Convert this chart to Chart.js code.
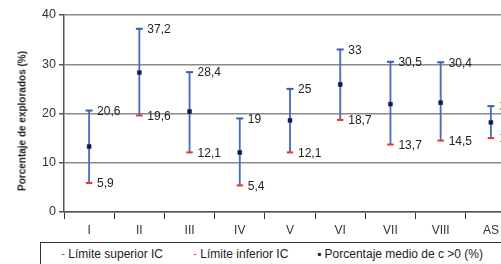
<!DOCTYPE html>
<html>
<head>
<meta charset="utf-8">
<script src="https://cdn.jsdelivr.net/npm/chart.js@4/dist/chart.umd.min.js"></script>
<style>
  html, body { margin: 0; padding: 0; background: #fff; overflow: hidden; }
  #wrap { position: relative; width: 501px; height: 264px; overflow: hidden; font-family: "Liberation Sans", Arial, sans-serif; }
  #chart { position: absolute; left: 0; top: 0; }
  #ytitle { position: absolute; left: 22px; top: 121px; transform: translate(-50%, -50%) rotate(-90deg);
            white-space: nowrap; font-size: 10px; font-weight: bold; color: #222; }
  #legend { position: absolute; left: 40px; top: 242px; width: 520px; height: 30px; border: 1px solid #333;
            box-sizing: border-box; font-size: 12px; color: #222; }
  #legend span { position: absolute; top: 4px; white-space: nowrap; }
</style>
</head>
<body>
<div id="wrap">
  <canvas id="chart" width="530" height="240"></canvas>
  <div id="ytitle">Porcentaje de explorados (%)</div>
  <div id="legend">
    <span style="left:20px"><b style="color:#5a7cc8;font-weight:normal">-</b> Límite superior IC</span>
    <span style="left:152px"><b style="color:#f0584a;font-weight:normal">-</b> Límite inferior IC</span>
    <span style="left:276px"><b style="color:#1a2050;font-weight:normal">▪</b> Porcentaje medio de c &gt;0 (%)</span>
  </div>
</div>
<script>
// --- datos ---
const categorias = ['I', 'II', 'III', 'IV', 'V', 'VI', 'VII', 'VIII', 'AS'];
const limiteSuperior = [20.6, 37.2, 28.4, 19, 25, 33, 30.5, 30.4, 21.5];
const limiteInferior = [5.9, 19.6, 12.1, 5.4, 12.1, 18.7, 13.7, 14.5, 15.0];
const porcentajeMedio = [13.3, 28.3, 20.4, 12.1, 18.6, 25.9, 21.9, 22.2, 18.2];
const yTicks = [0, 10, 20, 30, 40];

const fmt = v => String(v).replace('.', ',');

// etiquetas de valores junto a los extremos
const etiquetasPlugin = {
    id: 'etiquetas',
    afterDatasetsDraw(chart) {
        const ctx = chart.ctx;
        ctx.save();
        ctx.font = '12px "Liberation Sans", Arial, sans-serif';
        ctx.textAlign = 'left';
        ctx.textBaseline = 'middle';
        [[1, limiteSuperior, '#d9a050'], [2, limiteInferior, '#e86a3a']].forEach(([idx, vals, asColor]) => {
            const meta = chart.getDatasetMeta(idx);
            meta.data.forEach((pt, i) => {
                ctx.fillStyle = categorias[i] === 'AS' ? asColor : '#222';
                ctx.fillText(fmt(vals[i]), pt.x + 8, pt.y + 1);
            });
        });
        ctx.restore();
    }
};

const ctx = document.getElementById('chart').getContext('2d');
new Chart(ctx, {
    data: {
        labels: categorias,
        datasets: [
            {
                type: 'bar',
                data: limiteInferior.map((v, i) => [v, limiteSuperior[i]]),
                backgroundColor: '#4a6cc4',
                barThickness: 1.2,
                order: 4
            },
            {
                type: 'line', showLine: false,
                data: limiteSuperior,
                pointStyle: 'line', pointRadius: 3.5, borderWidth: 2,
                borderColor: '#3a5cb0', pointBorderColor: '#3a5cb0',
                order: 2
            },
            {
                type: 'line', showLine: false,
                data: limiteInferior,
                pointStyle: 'line', pointRadius: 3.2, borderWidth: 2,
                borderColor: '#ee3322', pointBorderColor: '#ee3322',
                order: 3
            },
            {
                type: 'line', showLine: false,
                data: porcentajeMedio,
                pointStyle: 'rect', pointRadius: 2.8, borderWidth: 0.5,
                pointBackgroundColor: '#111a4a', pointBorderColor: '#111a4a',
                order: 1
            }
        ]
    },
    options: {
        responsive: false,
        animation: false,
        events: [],
        layout: { padding: { top: 15, right: 14, bottom: 0, left: 0 } },
        plugins: { legend: { display: false }, tooltip: { enabled: false } },
        scales: {
            x: {
                type: 'category',
                offset: true,
                grid: { offset: true, drawOnChartArea: false, drawTicks: true, tickLength: 7, color: '#333', lineWidth: 1 },
                border: { color: '#555', width: 1.5 },
                ticks: { color: '#333', padding: 4, font: { family: '"Liberation Sans", Arial, sans-serif', size: 12 } },
                afterFit: s => { s.height = 28; }
            },
            y: {
                min: 0, max: 40,
                afterBuildTicks: s => { s.ticks = yTicks.map(v => ({ value: v })); },
                grid: { color: '#8a8a8a', lineWidth: 1.5, tickLength: 5, tickColor: '#555' },
                border: { color: '#555', width: 1.5 },
                ticks: { color: '#333', padding: 3, font: { family: '"Liberation Sans", Arial, sans-serif', size: 12.5 } },
                afterFit: s => { s.width = 64; }
            }
        }
    },
    plugins: [etiquetasPlugin]
});
</script>
</body>
</html>
